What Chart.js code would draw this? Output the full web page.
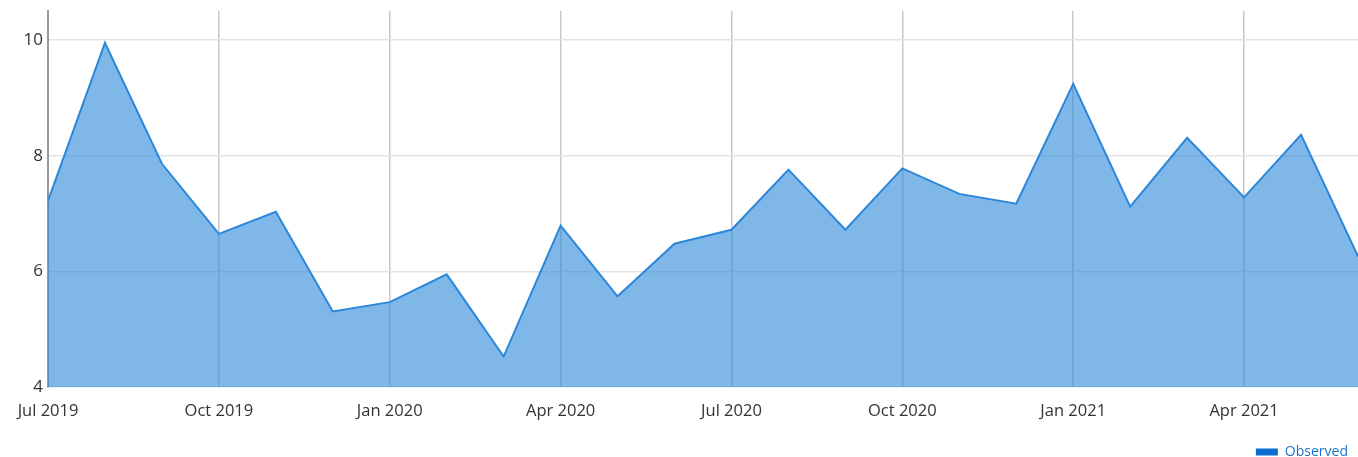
<!DOCTYPE html>
<html>
<head>
<meta charset="utf-8">
<script src="https://cdn.jsdelivr.net/npm/chart.js@4"></script>
<style>
  html, body { margin: 0; padding: 0; background: #fff; }
  #wrap { width: 1358px; height: 457px; }
</style>
</head>
<body>
<div id="wrap"><canvas id="chart"></canvas></div>
<script>
// monthly observed values, Jul 2019 - Jun 2021
const months = ['Jul 2019', 'Aug 2019', 'Sep 2019', 'Oct 2019', 'Nov 2019', 'Dec 2019',
    'Jan 2020', 'Feb 2020', 'Mar 2020', 'Apr 2020', 'May 2020', 'Jun 2020',
    'Jul 2020', 'Aug 2020', 'Sep 2020', 'Oct 2020', 'Nov 2020', 'Dec 2020',
    'Jan 2021', 'Feb 2021', 'Mar 2021', 'Apr 2021', 'May 2021', 'Jun 2021'];
const observed = [7.22, 9.95, 7.86, 6.65, 7.03, 5.31,
    5.47, 5.95, 4.53, 6.79, 5.57, 6.48,
    6.72, 7.76, 6.72, 7.78, 7.34, 7.17,
    9.24, 7.12, 8.31, 7.28, 8.36, 6.26];
const yTicks = [4, 6, 8, 10];

const font = "'Open Sans', 'Noto Sans', sans-serif";

let ctx = document.getElementById('chart').getContext('2d');
new Chart(ctx, {
    type: 'line',
    data: {
        labels: months,
        datasets: [{
            label: 'Observed',
            data: observed,
            fill: 'start',
            backgroundColor: 'rgba(43, 135, 218, 0.6)',
            borderColor: 'rgba(43, 135, 218, 1)',
            borderWidth: 2,
            pointRadius: 0,
            tension: 0
        }]
    },
    options: {
        responsive: true,
        maintainAspectRatio: false,
        animation: false,
        layout: { padding: { top: 11, right: 0, left: 0, bottom: -12 } },
        plugins: {
            tooltip: { enabled: false },
            legend: {
                position: 'bottom',
                align: 'end',
                labels: {
                    boxWidth: 22,
                    boxHeight: 7,
                    padding: 10,
                    color: '#1a73c8',
                    font: { family: font, size: 14 },
                    generateLabels: function(chart) {
                        return [{
                            text: 'Observed',
                            fillStyle: '#0a6fd0',
                            strokeStyle: '#0a6fd0',
                            lineWidth: 0,
                            fontColor: '#1a73c8',
                            datasetIndex: 0
                        }];
                    }
                }
            }
        },
        scales: {
            x: {
                offset: false,
                afterFit: s => { s.paddingLeft = 0; s.paddingRight = 0; },
                grid: {
                    drawTicks: false,
                    color: c => (c.index % 3 === 0 ? '#c8c8c8' : 'rgba(0,0,0,0)'),
                    lineWidth: 1.5
                },
                border: { display: false },
                ticks: {
                    autoSkip: false,
                    maxRotation: 0,
                    padding: 14,
                    color: '#333',
                    font: { family: font, size: 16.5 },
                    callback: function(v, i) {
                        return i % 3 === 0 ? months[i] : '';
                    }
                }
            },
            y: {
                min: 4,
                max: 10.5,
                afterFit: s => { s.width = 48; s.paddingTop = 0; s.paddingBottom = 0; },
                afterBuildTicks: s => { s.ticks = yTicks.map(v => ({ value: v })); },
                grid: {
                    drawTicks: false,
                    color: '#e4e4e4',
                    lineWidth: 1.5
                },
                border: { display: true, color: '#999', width: 2 },
                ticks: {
                    padding: 5,
                    color: '#333',
                    font: { family: font, size: 17 }
                }
            }
        }
    }
});
</script>
</body>
</html>
